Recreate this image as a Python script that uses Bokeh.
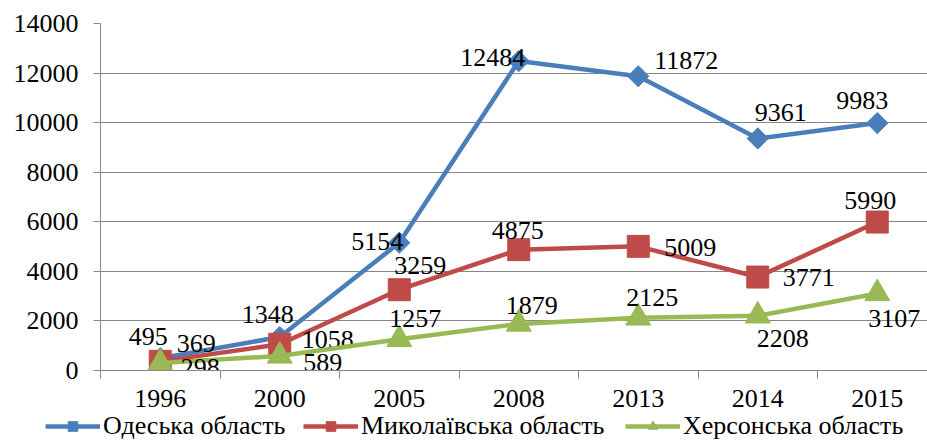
import numpy as np
from bokeh.plotting import figure
from bokeh.layouts import column
from bokeh.models import Range1d, FixedTicker, Legend, LegendItem, ColumnDataSource
from bokeh.core.properties import value
from bokeh.embed import file_html
from bokeh.resources import INLINE

FONT = "'Liberation Serif', 'Times New Roman', serif"
FS = "26px"

years = ["1996", "2000", "2005", "2008", "2013", "2014", "2015"]
odesa = [495, 1348, 5154, 12484, 11872, 9361, 9983]
mykolaiv = [369, 1058, 3259, 4875, 5009, 3771, 5990]
kherson = [298, 589, 1257, 1879, 2125, 2208, 3107]
names = ["Одеська область", "Миколаївська область", "Херсонська область"]
y_ticks = [0, 2000, 4000, 6000, 8000, 10000, 12000, 14000]

# label offsets (screen px) -- style only
dx_od = [-12, -12, -22, -26, 48, 23, -15]
dy_od = [-22, -23, -1, -4, -16, -26, -23]
dx_my = [36, 48, 21, -1, 52, 51, -7]
dy_my = [-18, -5, -24, -19, 1, 0, -22]
dx_kh = [40, 43, 16, 13, 14, 25, 17]
dy_kh = [4, 7, -21, -18, -20, 23, 25]
legend_x = [45, 303, 625]  # legend entry positions (screen px)

BLUE, RED, GREEN = "#4A7EBB", "#BE4B48", "#98B954"
GRID = "#878787"

xs = list(range(len(years)))
step = 119.5

p = figure(width=927, height=412, output_backend="svg", toolbar_location=None,
           x_range=Range1d(-0.5, -0.5 + 827 / step), y_range=Range1d(0, 14000),
           min_border_left=100, min_border_right=0, min_border_top=23, min_border_bottom=42)
p.outline_line_color = None

# axes
p.xaxis.ticker = FixedTicker(ticks=xs, minor_ticks=[i - 0.5 for i in range(len(years) + 1)])
p.xaxis.major_label_overrides = {i: y for i, y in enumerate(years)}
p.xaxis.major_tick_out = 0
p.xaxis.major_tick_in = 0
p.xaxis.minor_tick_out = 8
p.xaxis.minor_tick_in = 0
p.xaxis.minor_tick_line_color = GRID
p.xaxis.axis_line_color = GRID
p.xaxis.major_label_standoff = 11
p.xgrid.visible = False

p.yaxis.ticker = FixedTicker(ticks=y_ticks)
p.yaxis.minor_tick_line_color = None
p.yaxis.major_tick_out = 7
p.yaxis.major_tick_in = 0
p.yaxis.major_tick_line_color = GRID
p.yaxis.axis_line_color = GRID
p.yaxis.major_label_standoff = 15
p.ygrid.grid_line_color = GRID

for ax in (p.xaxis, p.yaxis):
    ax.major_label_text_font = FONT
    ax.major_label_text_font_size = FS
    ax.major_label_text_color = "black"

# separate strip for the legend (its ranges keep the proxy glyphs out of view)
lg = figure(width=927, height=29, output_backend="svg", toolbar_location=None,
            x_axis_type=None, y_axis_type=None,
            x_range=Range1d(1000, 1001), y_range=Range1d(1000, 1001),
            min_border_left=0, min_border_right=0, min_border_top=0, min_border_bottom=0)
lg.outline_line_color = None
lg.grid.visible = False
lg.frame_align = False

series = [
    (odesa, BLUE, "square", 15, np.pi / 4, dx_od, dy_od),
    (mykolaiv, RED, "square", 22, 0, dx_my, dy_my),
    (kherson, GREEN, "triangle", 25, 0, dx_kh, dy_kh),
]
for (vals, col, mk, sz, ang, dx, dy), name, lx in zip(series, names, legend_x):
    src = ColumnDataSource(dict(x=xs, y=vals, t=[str(v) for v in vals], dx=dx, dy=dy))
    p.line("x", "y", source=src, line_color=col, line_width=4.5)
    p.scatter("x", "y", source=src, marker=mk, size=sz, angle=ang,
              fill_color=col, line_color=col)
    p.text("x", "y", text="t", source=src, x_offset="dx", y_offset="dy",
           text_align="center", text_baseline="middle",
           text_font=value(FONT), text_font_size=FS, text_color="black")
    # legend proxies
    lr = lg.line("x", "y", source=src, line_color=col, line_width=4.5)
    sr = lg.scatter("x", "y", source=src, marker=mk, size=sz * 0.75, angle=ang,
                    fill_color=col, line_color=col)
    leg = Legend(items=[LegendItem(label=name, renderers=[lr, sr])], location=(lx, 0),
                 orientation="horizontal",
                 glyph_width=55, glyph_height=24, label_height=24, label_standoff=3,
                 spacing=0, padding=0, margin=0,
                 label_text_font=FONT, label_text_font_size=FS, label_text_color="black",
                 border_line_color=None, background_fill_alpha=0)
    lg.add_layout(leg, "center")

layout = column(p, lg, spacing=0)
open("out.html", "w").write(file_html(layout, INLINE))
